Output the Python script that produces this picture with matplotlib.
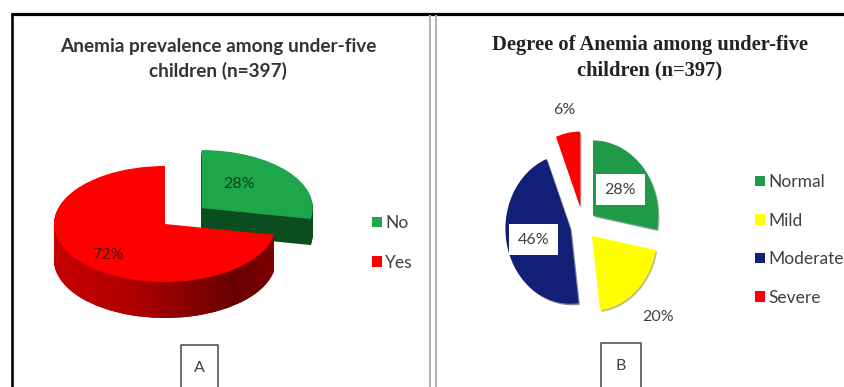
import numpy as np
import matplotlib
matplotlib.use("Agg")
import matplotlib.pyplot as plt
from matplotlib.colors import LinearSegmentedColormap

# ---------------- data ----------------
title_a = "Anemia prevalence among under-five\nchildren (n=397)"
cats_a = ["No", "Yes"]
pct_a = [28, 72]

title_b = "Degree of Anemia among under-five\nchildren (n=397)"
cats_b = ["Normal", "Mild", "Moderate", "Severe"]
pct_b = [28, 20, 46, 6]

panel_tags = ["A", "B"]

# ---------------- style ----------------
top_a = ["#1ea64b", "#ff0000"]
side_a = ["#0c4d20", "#a00000"]
explode_a = [0.43, 0.0]
depth_a = [0.45, 0.62]
lab_r_a = [0.54, 0.74]
lab_da_a = [11.5, 6.0]
lab_col_a = ["#0d3f1e", "#5a0a0a"]

cols_b = ["#1f9a47", "#ffff00", "#111f77", "#ff0000"]
explode_b = [0.2, 0.2, 0.2, 0.25]
lab_r_b = [0.54, 1.49, 0.58, 1.31]
lab_box_b = [True, False, True, False]

TXT = "#404040"
SANS = ["Lato", "DejaVu Sans"]
SERIF = ["Liberation Serif", "DejaVu Serif"]

W, H = 845, 387
fig = plt.figure(figsize=(W / 100, H / 100), dpi=100)
bg = fig.add_axes([0, 0, 1, 1])
bg.set_xlim(0, W)
bg.set_ylim(H, 0)
bg.axis("off")

# frame lines
bg.plot([11, W], [13.5, 13.5], color="black", lw=2.3, solid_capstyle="butt")
bg.plot([12, 12], [12.5, H], color="black", lw=1.9, solid_capstyle="butt")
for xx in (430, 436.5):
    bg.plot([xx, xx], [15, H], color="#b4b4b4", lw=1.5, solid_capstyle="butt")

renderer = fig.canvas.get_renderer()


def fit_width(t, target):
    for _ in range(3):
        w = t.get_window_extent(renderer).width
        t.set_fontsize(t.get_fontsize() * target / w)


# titles
ta = bg.text(218, 59, title_a, ha="center", va="center", fontsize=14,
             fontweight="bold", family=SANS, color="#333333", linespacing=1.45)
fit_width(ta, 317)
tb = bg.text(650, 58, title_b, ha="center", va="center", fontsize=14,
             fontweight="bold", family=SERIF, color="#222222", linespacing=1.35)
fit_width(tb, 316)

# panel tag boxes
for (x0, x1, y0), tag, ty in zip([(181, 218, 345), (601, 641, 343)], panel_tags, [368, 366]):
    bg.plot([x0, x0, x1, x1], [H + 5, y0, y0, H + 5], color="#555555", lw=1.2)
    bg.text((x0 + x1) / 2, ty, tag, ha="center", va="center", fontsize=11.5,
            family=SANS, color=TXT)


def pie_axes(cx, cy, sx, sy, xlim, ylim):
    x0 = cx + xlim[0] * sx
    x1 = cx + xlim[1] * sx
    y0 = cy - ylim[1] * sy
    y1 = cy - ylim[0] * sy
    return fig.add_axes([x0 / W, 1 - y1 / H, (x1 - x0) / W, (y1 - y0) / H])


# ---------------- panel A : 3-D style pie ----------------
xlim_a, ylim_a = (-1.45, 1.55), (-1.75, 1.45)
axA = pie_axes(165, 224, 111, 58, xlim_a, ylim_a)
N = 40
red_side = LinearSegmentedColormap.from_list(
    "rs", [(0, "#d60000"), (0.35, "#b40000"), (0.8, "#5c0000"), (1, "#720000")])
grad = np.linspace(0, 1, 256).reshape(1, -1)
for k in range(N, 0, -1):
    for idx, dep in enumerate(depth_a):
        dz = -dep * k / N
        ws, _ = axA.pie(pct_a, colors=side_a, startangle=90, counterclock=False,
                        explode=explode_a, center=(0, dz),
                        wedgeprops=dict(linewidth=0))
        for j, w in enumerate(ws):
            if j != idx:
                w.remove()
        z = 1 + 2 * idx + (N - k) * 0.001
        ws[idx].set_zorder(z)
        if idx == 1:
            im = axA.imshow(grad, cmap=red_side,
                            extent=(-1.02, 1.02, dz - 1.05, dz + 1.05),
                            aspect="auto", interpolation="bilinear", zorder=z + 0.0005)
            im.set_clip_path(ws[idx])
tops, _ = axA.pie(pct_a, colors=top_a, startangle=90, counterclock=False,
                  explode=explode_a, wedgeprops=dict(linewidth=0))
tops[0].set_zorder(2)
tops[1].set_zorder(4)
for w, v, r, da, c in zip(tops, pct_a, lab_r_a, lab_da_a, lab_col_a):
    mid = np.deg2rad((w.theta1 + w.theta2) / 2 + da)
    x = w.center[0] + r * np.cos(mid)
    y = w.center[1] + r * np.sin(mid)
    axA.text(x, y, f"{v}%", ha="center", va="center", fontsize=11.5,
             family=SANS, color=c, zorder=10)
axA.set_aspect("auto")
axA.set_xlim(*xlim_a)
axA.set_ylim(*ylim_a)
axA.axis("off")
axA.legend(tops, cats_a, loc="center left", bbox_to_anchor=(372 / W, 1 - 243 / H),
           bbox_transform=fig.transFigure, frameon=False,
           handlelength=0.57, handleheight=0.57, handletextpad=0.2,
           labelspacing=1.35, borderpad=0, borderaxespad=0, labelcolor=TXT,
           prop=dict(family=SANS, size=12.5))

# ---------------- panel B : exploded pie ----------------
xlim_b, ylim_b = (-1.6, 1.6), (-1.5, 1.6)
axB = pie_axes(583, 225, 65, 75, xlim_b, ylim_b)
wb, _ = axB.pie(pct_b, colors=cols_b, startangle=90, counterclock=False,
                explode=explode_b, wedgeprops=dict(linewidth=0),
                shadow=dict(ox=0.015, oy=-0.015, shade=0.5))
for w, v, r, boxed in zip(wb, pct_b, lab_r_b, lab_box_b):
    mid = np.deg2rad((w.theta1 + w.theta2) / 2)
    x = w.center[0] + r * np.cos(mid)
    y = w.center[1] + r * np.sin(mid)
    kw = {}
    if boxed:
        kw["bbox"] = dict(boxstyle="square,pad=0.55", fc="white", ec="none")
    axB.text(x, y, f"{v}%", ha="center", va="center", fontsize=11.5,
             family=SANS, color=TXT, zorder=10, **kw)
axB.set_aspect("auto")
axB.set_xlim(*xlim_b)
axB.set_ylim(*ylim_b)
axB.axis("off")
axB.legend(wb, cats_b, loc="center left", bbox_to_anchor=(755 / W, 1 - 240 / H),
           bbox_transform=fig.transFigure, frameon=False,
           handlelength=0.57, handleheight=0.57, handletextpad=0.2,
           labelspacing=1.3, borderpad=0, borderaxespad=0, labelcolor=TXT,
           prop=dict(family=SANS, size=12.5))

fig.savefig("out.png", dpi=100)
